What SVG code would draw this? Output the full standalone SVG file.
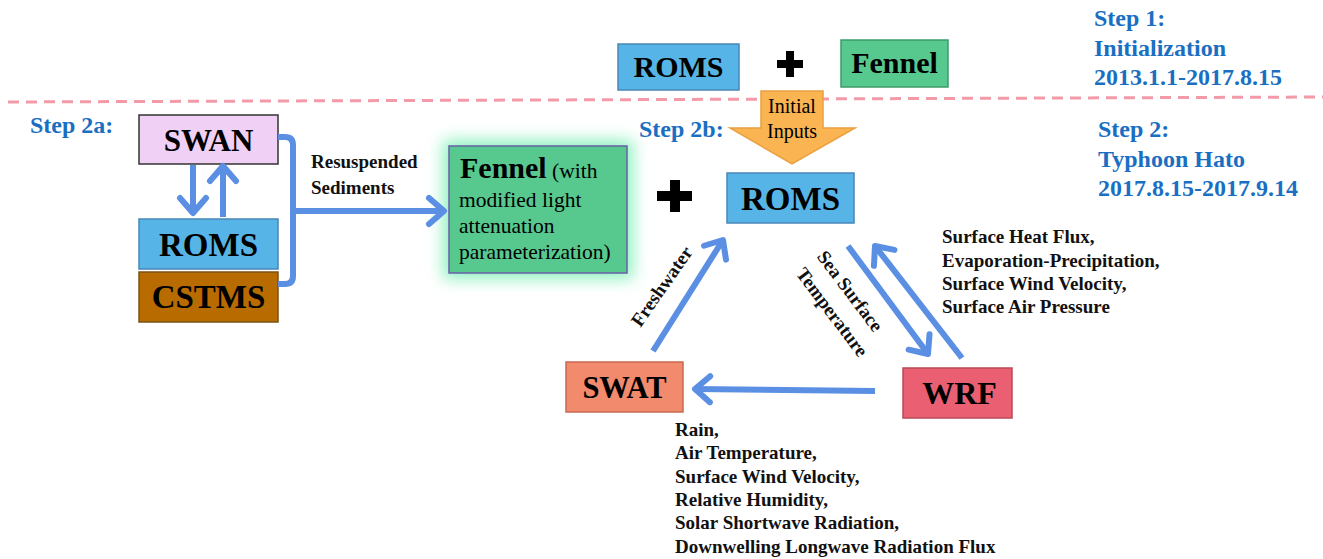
<svg xmlns="http://www.w3.org/2000/svg" width="1323" height="559" viewBox="0 0 1323 559">
<style>
.box{stroke-width:1.5}
.lbl{font-family:"Liberation Serif",serif;font-weight:bold;fill:#000;text-anchor:middle}
.step{font-family:"Liberation Serif",serif;font-weight:bold;fill:#1b6fc2;font-size:24px}
.note{font-family:"Liberation Serif",serif;font-weight:bold;fill:#111;font-size:19px}
.txt{font-family:"Liberation Serif",serif;fill:#000}
.conn{fill:none;stroke:#5b8fe3;stroke-width:6;stroke-linecap:butt}
</style>
<defs>
<marker id="ah" markerUnits="userSpaceOnUse" markerWidth="40" markerHeight="40" viewBox="-20 -20 40 40" refX="0" refY="0" orient="auto" overflow="visible">
<path d="M-15,-13 L0,0 L-15,13" fill="none" stroke="#5b8fe3" stroke-width="6" stroke-linecap="round" stroke-linejoin="round"/>
</marker>
<filter id="glow" x="-30%" y="-30%" width="160%" height="160%">
<feGaussianBlur stdDeviation="8"/>
</filter>
</defs>
<rect width="1323" height="559" fill="#fff"/>
<line x1="8" y1="102" x2="1323" y2="97" stroke="#f29aa8" stroke-width="3" stroke-dasharray="11 7"/>

<g id="step-labels">
<text class="step" x="1094" y="26">Step 1:</text>
<text class="step" x="1094" y="56">Initialization</text>
<text class="step" x="1094" y="85">2013.1.1-2017.8.15</text>
<text class="step" x="1098" y="137">Step 2:</text>
<text class="step" x="1098" y="167">Typhoon Hato</text>
<text class="step" x="1098" y="196">2017.8.15-2017.9.14</text>
<text class="step" x="30" y="133" font-size="23">Step 2a:</text>
<text class="step" x="639" y="137" font-size="23">Step 2b:</text>
</g>

<g id="roms-init">
<rect class="box" x="618" y="44" width="121" height="46" fill="#56b5e6" stroke="#4a86b8"/>
<text class="lbl" x="678.5" y="77" font-size="30">ROMS</text>
</g>
<g id="plus-top">
<path d="M786,51 h8 v9 h9 v8 h-9 v9 h-8 v-9 h-9 v-8 h9 z" fill="#000"/>
</g>
<g id="fennel-init">
<rect class="box" x="841" y="40" width="107" height="47" fill="#57c98f" stroke="#3e9a6a"/>
<text class="lbl" x="894.5" y="73" font-size="30">Fennel</text>
</g>

<g id="initial-inputs">
<path d="M761,91 H823 V128 H855 L792,164 L730,128 H761 Z" fill="#fbb452" stroke="#e9a040" stroke-width="1.5"/>
<text class="txt" x="792" y="113" font-size="20" text-anchor="middle">Initial</text>
<text class="txt" x="792" y="138" font-size="20" text-anchor="middle">Inputs</text>
</g>

<g id="swan">
<rect class="box" x="139" y="115" width="139" height="49" fill="#f1d0f5" stroke="#333"/>
<text class="lbl" x="208.5" y="151" font-size="31">SWAN</text>
</g>
<g id="roms-2a">
<rect class="box" x="139" y="219" width="139" height="50" fill="#56b5e6" stroke="#4a86b8"/>
<text class="lbl" x="208.5" y="256" font-size="33">ROMS</text>
</g>
<g id="cstms">
<rect class="box" x="139" y="272" width="139" height="50" fill="#b86c00" stroke="#7a5218"/>
<text class="lbl" x="208.5" y="308" font-size="33">CSTMS</text>
</g>

<g id="fennel-main">
<rect x="443" y="140" width="190" height="139" fill="#8ef2c0" filter="url(#glow)"/>
<rect x="449" y="146" width="178" height="127" fill="#57c98f" stroke="#6a5fa8" stroke-width="1.5"/>
<text class="txt" x="460" y="178"><tspan font-size="30" font-weight="bold">Fennel</tspan><tspan font-size="21.5"> (with</tspan></text>
<text class="txt" x="459" y="207" font-size="21.5">modified  light</text>
<text class="txt" x="459" y="233" font-size="21.5">attenuation</text>
<text class="txt" x="459" y="259" font-size="21.5">parameterization)</text>
</g>
<g id="plus-mid">
<path d="M670,180 h10 v11 h12 v10 h-12 v11 h-10 v-11 h-13 v-10 h13 z" fill="#000"/>
</g>

<g id="roms-main">
<rect class="box" x="727" y="173" width="127" height="50" fill="#56b5e6" stroke="#4a86b8"/>
<text class="lbl" x="790.5" y="210" font-size="33">ROMS</text>
</g>
<g id="swat">
<rect class="box" x="566" y="362" width="117" height="50" fill="#f28a6e" stroke="#c86a50"/>
<text class="lbl" x="624.5" y="398" font-size="30.5">SWAT</text>
</g>
<g id="wrf">
<rect class="box" x="903" y="368" width="109" height="50" fill="#ea6072" stroke="#b84a58"/>
<text class="lbl" x="959.5" y="404" font-size="32">WRF</text>
</g>

<g id="connectors">
<line class="conn" x1="193" y1="165" x2="193" y2="213" marker-end="url(#ah)"/>
<line class="conn" x1="223" y1="217" x2="223" y2="166" marker-end="url(#ah)"/>
<path class="conn" d="M278,137 H285 Q293,137 293,145 V276 Q293,284 285,284 H278" stroke-width="5"/>
<line class="conn" x1="293" y1="211" x2="444" y2="211" stroke-width="5" marker-end="url(#ah)"/>
<line class="conn" x1="653" y1="351" x2="723" y2="240" marker-end="url(#ah)"/>
<line class="conn" x1="848" y1="246" x2="928" y2="354" marker-end="url(#ah)"/>
<line class="conn" x1="962" y1="358" x2="875" y2="246" marker-end="url(#ah)"/>
<line class="conn" x1="875" y1="391" x2="695" y2="389" marker-end="url(#ah)"/>
</g>

<g id="connector-labels">
<text class="note" x="311" y="168" font-size="20.5">Resuspended</text>
<text class="note" x="311" y="194" font-size="20.5">Sediments</text>
<text class="note" text-anchor="middle" transform="translate(667,290) rotate(-55)">Freshwater</text>
<text class="note" text-anchor="middle" transform="translate(845,295) rotate(53)">Sea Surface</text>
<text class="note" text-anchor="middle" transform="translate(827,316) rotate(53)">Temperature</text>
<text class="note" x="942" y="243">Surface Heat Flux,</text>
<text class="note" x="942" y="267">Evaporation-Precipitation,</text>
<text class="note" x="942" y="290">Surface Wind Velocity,</text>
<text class="note" x="942" y="313">Surface Air Pressure</text>
<text class="note" x="675" y="436">Rain,</text>
<text class="note" x="675" y="459">Air Temperature,</text>
<text class="note" x="675" y="483">Surface Wind Velocity,</text>
<text class="note" x="675" y="506">Relative Humidity,</text>
<text class="note" x="675" y="529">Solar Shortwave Radiation,</text>
<text class="note" x="675" y="553">Downwelling Longwave Radiation Flux</text>
</g>
</svg>
